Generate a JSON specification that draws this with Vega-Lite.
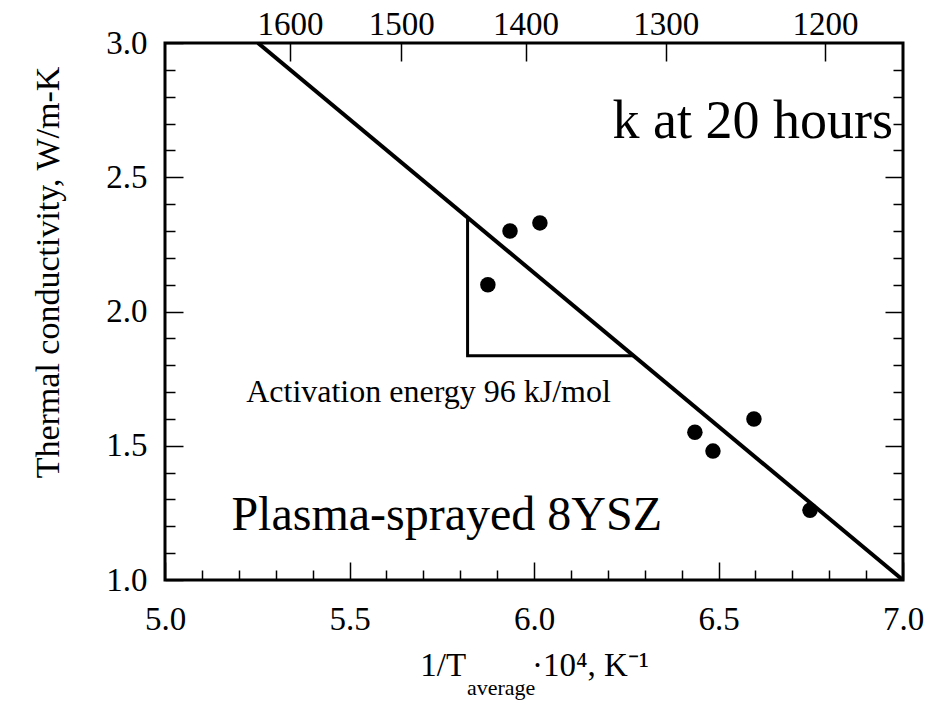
{
  "$schema": "https://vega.github.io/schema/vega-lite/v6.json",
  "width": 738,
  "height": 537,
  "autosize": {"type": "none"},
  "padding": {"left": 165, "top": 43, "right": 39, "bottom": 127},
  "background": "white",
  "config": {
    "view": {"stroke": "black", "strokeWidth": 3},
    "font": "Liberation Serif",
    "axis": {
      "labelFont": "Liberation Serif",
      "titleFont": "Liberation Serif",
      "labelColor": "black",
      "titleColor": "black",
      "tickColor": "black",
      "domain": false,
      "grid": false,
      "labelFlush": false,
      "labelOverlap": false,
      "labelFontSize": 33,
      "titleFontSize": 34,
      "titleFontWeight": "normal",
      "tickWidth": 1.5
    }
  },
  "datasets": {
    "fit": [{"v": 5.252, "k": 3.0}, {"v": 7.0, "k": 1.0}],
    "triangle": [
      {"v": 5.82, "k": 2.35, "o": 1},
      {"v": 5.82, "k": 1.835, "o": 2},
      {"v": 6.27, "k": 1.835, "o": 3}
    ],
    "points": [
      {"v": 5.875, "k": 2.10},
      {"v": 5.935, "k": 2.30},
      {"v": 6.016, "k": 2.33},
      {"v": 6.436, "k": 1.55},
      {"v": 6.485, "k": 1.48},
      {"v": 6.596, "k": 1.60},
      {"v": 6.748, "k": 1.26}
    ],
    "labelsRight": [
      {"v": 6.973, "k": 2.646, "t": "k at 20 hours", "s": 54}
    ],
    "labelsLeft": [
      {"v": 5.18, "k": 1.186, "t": "Plasma-sprayed 8YSZ", "s": 48},
      {"v": 5.22, "k": 1.663, "t": "Activation energy 96 kJ/mol", "s": 32}
    ],
    "sub": [{"v": 5.911, "k": 0.572, "t": "average"}]
  },
  "resolve": {"axis": {"x": "independent", "y": "independent"}},
  "layer": [
    {
      "data": {"name": "fit"},
      "mark": {"type": "line", "color": "black", "strokeWidth": 4, "clip": true},
      "encoding": {
        "x": {
          "field": "v", "type": "quantitative",
          "scale": {"domain": [5, 7], "nice": false, "zero": false},
          "axis": {
            "orient": "bottom",
            "values": [5, 5.5, 6, 6.5, 7],
            "format": ".1f",
            "tickSize": -18,
            "labelPadding": 41,
            "title": "1/T\u00a0\u00a0\u00a0\u00a0\u00a0\u00a0\u00a0\u00a0·10⁴, K⁻¹",
            "titleFontSize": 33,
            "titleBaseline": "alphabetic",
            "titleY": 95
          }
        },
        "y": {
          "field": "k", "type": "quantitative",
          "scale": {"domain": [1, 3], "nice": false, "zero": false},
          "axis": {
            "orient": "left",
            "values": [1, 1.5, 2, 2.5, 3],
            "format": ".1f",
            "tickSize": -18,
            "labelPadding": 36,
            "title": "Thermal conductivity, W/m-K",
            "titleAngle": -90,
            "titleAlign": "center",
            "titleBaseline": "middle",
            "titleX": -117,
            "titleY": 229
          }
        }
      }
    },
    {
      "data": {"name": "triangle"},
      "mark": {"type": "line", "color": "black", "strokeWidth": 3},
      "encoding": {
        "x": {
          "field": "v", "type": "quantitative",
          "axis": {
            "orient": "bottom",
            "values": [5.1, 5.2, 5.3, 5.4, 5.6, 5.7, 5.8, 5.9, 6.1, 6.2, 6.3, 6.4, 6.6, 6.7, 6.8, 6.9],
            "labels": false,
            "tickSize": -10,
            "title": null
          }
        },
        "y": {
          "field": "k", "type": "quantitative",
          "axis": {
            "orient": "left",
            "values": [1.1, 1.2, 1.3, 1.4, 1.6, 1.7, 1.8, 1.9, 2.1, 2.2, 2.3, 2.4, 2.6, 2.7, 2.8, 2.9],
            "labels": false,
            "tickSize": -10,
            "title": null
          }
        },
        "order": {"field": "o", "type": "quantitative"}
      }
    },
    {
      "data": {"name": "points"},
      "mark": {"type": "point", "filled": true, "color": "black", "opacity": 1, "size": 240},
      "encoding": {
        "x": {
          "field": "v", "type": "quantitative",
          "axis": {
            "orient": "top",
            "values": [5.33903, 5.64016, 5.97729, 6.35728, 6.78887],
            "labelExpr": "format(round((10000 / datum.value - 273) / 100) * 100, 'd')",
            "tickSize": -18,
            "labelPadding": 20,
            "title": null
          }
        },
        "y": {
          "field": "k", "type": "quantitative",
          "axis": {
            "orient": "right",
            "values": [1.1, 1.2, 1.3, 1.4, 1.6, 1.7, 1.8, 1.9, 2.1, 2.2, 2.3, 2.4, 2.6, 2.7, 2.8, 2.9],
            "labels": false,
            "tickSize": -10,
            "title": null
          }
        }
      }
    },
    {
      "data": {"name": "labelsRight"},
      "mark": {"type": "text", "color": "black", "baseline": "alphabetic", "align": "right", "font": "Liberation Serif"},
      "encoding": {
        "x": {"field": "v", "type": "quantitative", "axis": null},
        "y": {
          "field": "k", "type": "quantitative",
          "axis": {
            "orient": "right",
            "values": [1.5, 2, 2.5],
            "labels": false,
            "tickSize": -18,
            "title": null
          }
        },
        "text": {"field": "t"},
        "size": {"field": "s", "type": "quantitative", "scale": null, "legend": null}
      }
    },
    {
      "data": {"name": "labelsLeft"},
      "mark": {"type": "text", "color": "black", "baseline": "alphabetic", "align": "left", "font": "Liberation Serif"},
      "encoding": {
        "x": {"field": "v", "type": "quantitative", "axis": null},
        "y": {"field": "k", "type": "quantitative", "axis": null},
        "text": {"field": "t"},
        "size": {"field": "s", "type": "quantitative", "scale": null, "legend": null}
      }
    },
    {
      "data": {"name": "sub"},
      "mark": {"type": "text", "color": "black", "baseline": "alphabetic", "align": "center", "font": "Liberation Serif", "fontSize": 22, "clip": false},
      "encoding": {
        "x": {"field": "v", "type": "quantitative", "axis": null},
        "y": {"field": "k", "type": "quantitative", "axis": null},
        "text": {"field": "t"}
      }
    }
  ]
}
